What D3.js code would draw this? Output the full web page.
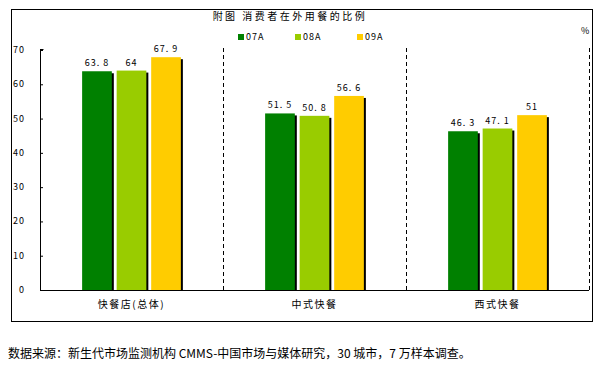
<!DOCTYPE html>
<html>
<head>
  <meta charset="utf-8">
  <title>附图 消费者在外用餐的比例</title>
  <script src="https://d3js.org/d3.v7.min.js"></script>
  <style>
    body { margin: 0; background: #fff; }
    text { font-family: "Noto Sans CJK SC", "DejaVu Sans", sans-serif; fill: #000; }
  </style>
</head>
<body>
  <svg width="602" height="374"></svg>
  <script>
    // chart data
    const categories = ["快餐店(总体)", "中式快餐", "西式快餐"];
    const seriesNames = ["07A", "08A", "09A"];
    const seriesColors = ["#008000", "#99cc00", "#ffcc00"];
    const values07 = [63.8, 51.5, 46.3];
    const values08 = [64, 50.8, 47.1];
    const values09 = [67.9, 56.6, 51];
    const yTicks = [0, 10, 20, 30, 40, 50, 60, 70];

    const series = [values07, values08, values09];
    const svg = d3.select("svg");

    // outer frame
    svg.append("rect")
      .attr("x", 11.5).attr("y", 9.5)
      .attr("width", 581).attr("height", 312)
      .attr("fill", "none").attr("stroke", "#000");

    // title
    svg.append("text")
      .attr("x", 290).attr("y", 20)
      .attr("text-anchor", "middle")
      .style("font-size", "10px")
      .style("letter-spacing", "2.5px")
      .text("附图  消费者在外用餐的比例");

    // scales
    const x = d3.scaleBand().domain(categories).range([40, 589]);
    const y = d3.scaleLinear().domain([0, 70]).range([290, 50]);
    const xs = d3.scaleBand().domain(seriesNames).range([0, x.bandwidth()]).paddingInner(0.14).paddingOuter(1.22);

    // y axis
    const yAxis = svg.append("g").attr("transform", "translate(40,0)")
      .call(d3.axisRight(y).tickValues(yTicks).tickSize(3).tickFormat(""));
    yAxis.select(".domain").attr("d", "M0,49.5H3.5M0.5,49.5V290.5");
    yAxis.selectAll("line").attr("stroke", "#000");
    svg.selectAll("text.ylab")
      .data(yTicks)
      .enter().append("text")
      .attr("class", "ylab")
      .attr("x", 25).attr("y", d => y(d) + 3)
      .attr("text-anchor", "end")
      .style("font-size", "9px")
      .style("letter-spacing", "1px")
      .text(d => d);

    // baseline
    svg.append("line")
      .attr("x1", 40).attr("x2", 589)
      .attr("y1", 290.5).attr("y2", 290.5)
      .attr("stroke", "#000");

    // dashed separators
    svg.selectAll("line.sep")
      .data(categories)
      .enter().append("line")
      .attr("class", "sep")
      .attr("x1", d => Math.round(x(d) + x.bandwidth()) + 0.5)
      .attr("x2", d => Math.round(x(d) + x.bandwidth()) + 0.5)
      .attr("y1", 48).attr("y2", 290)
      .attr("stroke", "#000")
      .attr("stroke-dasharray", "4,3");

    // bars
    const groups = svg.selectAll("g.cat")
      .data(categories)
      .enter().append("g")
      .attr("class", "cat")
      .attr("transform", d => `translate(${x(d)},0)`);

    seriesNames.forEach((s, si) => {
      // shadow
      groups.append("rect")
        .attr("x", xs(s) + 2)
        .attr("y", (d, i) => y(series[si][i]) + 2)
        .attr("width", xs.bandwidth())
        .attr("height", (d, i) => 290 - y(series[si][i]) - 2)
        .attr("fill", "#000");
      groups.append("rect")
        .attr("x", xs(s))
        .attr("y", (d, i) => y(series[si][i]))
        .attr("width", xs.bandwidth())
        .attr("height", (d, i) => 290 - y(series[si][i]))
        .attr("fill", seriesColors[si]);
      groups.append("text")
        .attr("x", xs(s) + xs.bandwidth() / 2)
        .attr("y", (d, i) => y(series[si][i]) - 5)
        .attr("text-anchor", "middle")
        .style("font-size", "9px")
        .style("letter-spacing", "1px")
        .text((d, i) => {
          const v = series[si][i];
          return Number.isInteger(v) ? v : String(v).replace(".", ". ");
        });
    });

    // category labels
    svg.selectAll("text.cat")
      .data(categories)
      .enter().append("text")
      .attr("class", "cat")
      .attr("x", d => x(d) + x.bandwidth() / 2)
      .attr("y", 308)
      .attr("text-anchor", "middle")
      .style("font-size", "10px")
      .style("letter-spacing", "1.5px")
      .text(d => d);

    // legend
    const legendX = [238, 295, 357];
    seriesNames.forEach((s, i) => {
      svg.append("rect")
        .attr("x", legendX[i]).attr("y", 34)
        .attr("width", 6).attr("height", 6)
        .attr("fill", seriesColors[i]);
      svg.append("text")
        .attr("x", legendX[i] + 8).attr("y", 40)
        .style("font-size", "9px")
        .style("letter-spacing", "1px")
        .text(s);
    });

    svg.append("text")
      .attr("x", 581).attr("y", 34)
      .style("font-size", "9px")
      .text("%");

    // source note
    svg.append("text")
      .attr("x", 8).attr("y", 358)
      .style("font-size", "12px")
      .text("数据来源：新生代市场监测机构 CMMS-中国市场与媒体研究，30 城市，7 万样本调查。");
  </script>
</body>
</html>
